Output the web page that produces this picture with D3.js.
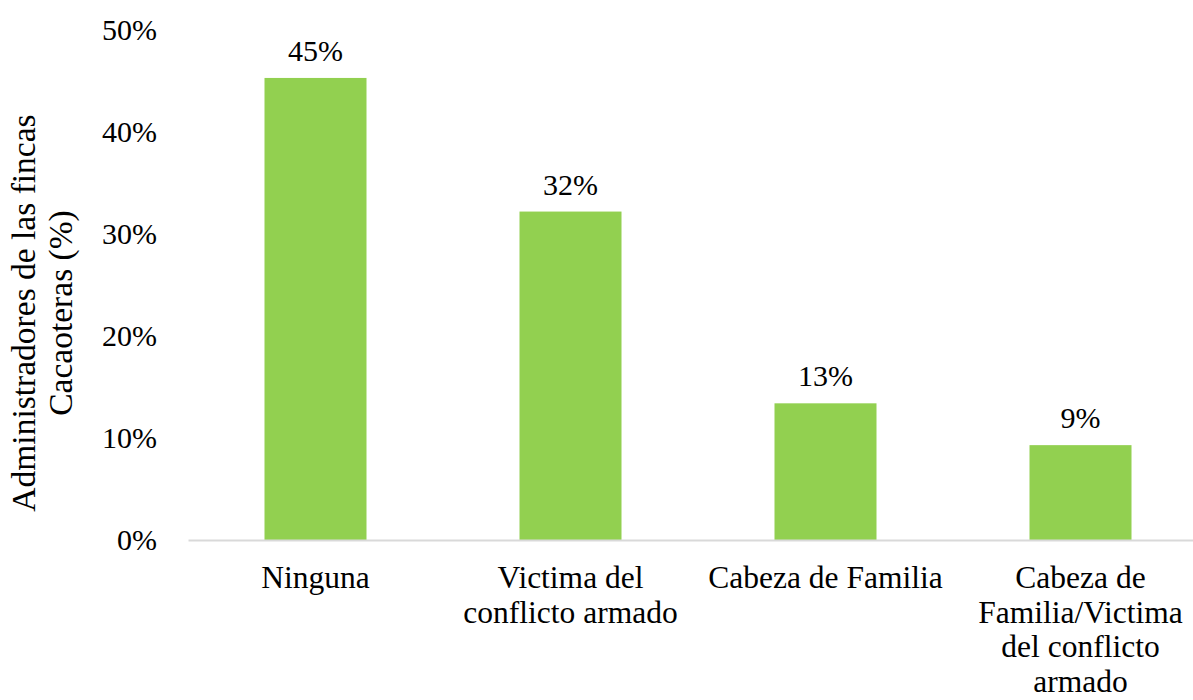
<!DOCTYPE html>
<head>
  <meta charset="utf-8">
  <script src="https://d3js.org/d3.v7.min.js"></script>
  <style>
    body { margin: 0; background: #fff; }
    svg { display: block; }
    svg text { font-family: "Liberation Serif", "Times New Roman", serif; }
  </style>
</head>
<body>
  <svg width="1193" height="700"></svg>
  <script>
    var categories = ['Ninguna', 'Victima del conflicto armado', 'Cabeza de Familia', 'Cabeza de Familia/Victima del conflicto armado'];
    // label lines as they wrap in the picture
    var categoryLines = [
      ['Ninguna'],
      ['Victima del', 'conflicto armado'],
      ['Cabeza de Familia'],
      ['Cabeza de', 'Familia/Victima', 'del conflicto', 'armado']
    ];
    var values = [0.453, 0.322, 0.134, 0.093];
    var yTicks = [0, 0.1, 0.2, 0.3, 0.4, 0.5];
    var yTitle = ['Administradores de las fincas', 'Cacaoteras (%)'];

    var fontSize = 30;
    var svg = d3.select('svg');

    var xScale = d3.scaleBand()
      .domain(categories)
      .range([188, 1208])
      .paddingInner(0.6)
      .paddingOuter(0.3);

    var yScale = d3.scaleLinear()
      .domain([0, 0.5])
      .range([540, 30]);

    // bars
    svg.selectAll('rect.bar')
      .data(values)
      .enter()
      .append('rect')
      .attr('class', 'bar')
      .attr('x', function (d, i) { return xScale(categories[i]); })
      .attr('width', xScale.bandwidth())
      .attr('y', function (d) { return yScale(d); })
      .attr('height', function (d) { return yScale(0) - yScale(d); })
      .attr('fill', '#92d050');

    // value labels
    svg.selectAll('text.val')
      .data(values)
      .enter()
      .append('text')
      .attr('class', 'val')
      .attr('x', function (d, i) { return xScale(categories[i]) + xScale.bandwidth() / 2; })
      .attr('y', function (d) { return yScale(d) - 17; })
      .attr('text-anchor', 'middle')
      .attr('font-size', fontSize)
      .attr('fill', '#000')
      .text(function (d) { return Math.round(d * 100) + '%'; });

    // x axis
    var xAxis = svg.append('g')
      .attr('transform', 'translate(0,' + yScale(0) + ')')
      .call(d3.axisBottom(xScale).tickSize(0).tickFormat(''));
    xAxis.select('.domain').attr('stroke', '#d9d9d9').attr('stroke-width', 2);

    xAxis.selectAll('.tick').each(function (d, i) {
      var t = d3.select(this).append('text')
        .attr('text-anchor', 'middle')
        .attr('font-size', 31.5)
        .attr('fill', '#000')
        .attr('y', 48);
      categoryLines[i].forEach(function (line, j) {
        t.append('tspan').attr('x', 0).attr('dy', j === 0 ? 0 : 34.5).text(line);
      });
    });

    // y axis
    var yAxis = svg.append('g')
      .attr('transform', 'translate(159,0)')
      .call(d3.axisLeft(yScale).tickValues(yTicks).tickSize(0).tickPadding(2).tickFormat(d3.format('.0%')));
    yAxis.select('.domain').remove();
    yAxis.selectAll('text')
      .attr('font-size', fontSize)
      .attr('fill', '#000')
      .attr('dy', '0.3em');

    // y title
    var title = svg.append('text')
      .attr('transform', 'translate(35,313) rotate(-90)')
      .attr('text-anchor', 'middle')
      .attr('font-size', 33.5)
      .attr('fill', '#000');
    yTitle.forEach(function (line, j) {
      title.append('tspan').attr('x', 0).attr('dy', j === 0 ? 0 : 37).text(line);
    });
  </script>
</body>
